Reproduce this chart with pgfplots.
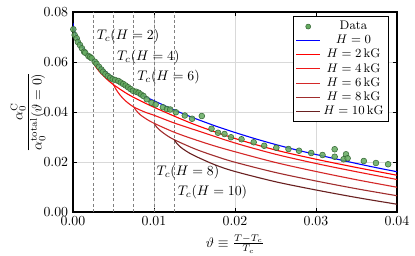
\documentclass[border=0pt]{standalone}
\usepackage{pgfplots}
\pgfplotsset{compat=1.18}
\definecolor{hb}{RGB}{0,0,255}
\definecolor{h2}{RGB}{255,0,0}
\definecolor{h4}{RGB}{238,24,24}
\definecolor{h6}{RGB}{212,40,40}
\definecolor{h8}{RGB}{160,45,45}
\definecolor{h10}{RGB}{105,32,32}
\definecolor{ptfill}{RGB}{100,170,95}
\definecolor{ptedge}{RGB}{55,105,55}
\begin{document}
\begin{tikzpicture}
\begin{axis}[
  scale only axis, width=234.3pt, height=144.6pt,
  xmin=0, xmax=0.04, ymin=0, ymax=0.08,
  xtick={0,0.01,0.02,0.03,0.04}, ytick={0,0.02,0.04,0.06,0.08},
  scaled ticks=false,
  xticklabel style={/pgf/number format/.cd, fixed, fixed zerofill, precision=2},
  yticklabel style={/pgf/number format/.cd, fixed, fixed zerofill, precision=2},
  grid=major, grid style={black!15, line width=0.7pt},
  axis line style={line width=0.8pt},
  tick style={black, line width=0.5pt},
  major tick length=3pt,
  every axis y label/.style={at={(axis description cs:-0.139,0.5)}, rotate=90, anchor=center},
  every axis x label/.style={at={(axis description cs:0.5,-0.16)}, anchor=center},
  xlabel={$\vartheta\equiv\frac{T-T_c}{T_c}$},
  ylabel={$\displaystyle\frac{\alpha_0^{\mathrm{C}}}{\alpha_0^{\mathrm{total}}(\vartheta=0)}$},
  legend style={at={(0.975,0.98)}, anchor=north east, draw=black, line width=0.6pt, font=\small, row sep=-1.5pt, inner sep=1.5pt, cells={anchor=center}},
  legend cell align=center,
  every axis plot/.append style={line width=0.8pt},
]
\addlegendimage{only marks, mark=*, mark size=1.8pt, mark options={fill=ptfill, draw=ptedge, line width=0.4pt}}
\addlegendentry{Data}

% vertical dashed Tc lines
\addplot[forget plot, black!50, line width=0.6pt, dash pattern=on 2.2pt off 1.6pt] coordinates {(0.0025,0) (0.0025,0.08)};
\addplot[forget plot, black!50, line width=0.6pt, dash pattern=on 2.2pt off 1.6pt] coordinates {(0.005,0) (0.005,0.08)};
\addplot[forget plot, black!50, line width=0.6pt, dash pattern=on 2.2pt off 1.6pt] coordinates {(0.0075,0) (0.0075,0.08)};
\addplot[forget plot, black!50, line width=0.6pt, dash pattern=on 2.2pt off 1.6pt] coordinates {(0.01,0) (0.01,0.08)};
\addplot[forget plot, black!50, line width=0.6pt, dash pattern=on 2.2pt off 1.6pt] coordinates {(0.0125,0) (0.0125,0.08)};

\addplot[hb, smooth] coordinates {
(0,0.0755) (0.0001,0.0735) (0.0002,0.0722) (0.0004,0.0703) (0.0007,0.0683)
(0.001,0.0667) (0.0015,0.0645) (0.002,0.0625) (0.0025,0.0607) (0.003,0.0592)
(0.0035,0.0577) (0.004,0.0563) (0.0045,0.0549) (0.005,0.0536) (0.006,0.0514)
(0.007,0.0494) (0.008,0.0476) (0.009,0.0460) (0.010,0.0445) (0.011,0.0430)
(0.0125,0.0408) (0.014,0.0388) (0.015,0.0375) (0.0175,0.0345) (0.020,0.0318)
(0.0225,0.0293) (0.025,0.0270) (0.0275,0.0249) (0.030,0.0230) (0.0325,0.0212)
(0.035,0.0194) (0.0375,0.0177) (0.040,0.0161)};
\addlegendentry{$H=0$}

\addplot[h2, smooth] coordinates {
(0.0025,0.0599) (0.0028,0.0581) (0.0032,0.0564) (0.0038,0.0543) (0.0045,0.0522)
(0.005,0.0509) (0.007,0.0467) (0.01,0.0419) (0.015,0.0350) (0.02,0.0294)
(0.025,0.0248) (0.03,0.0211) (0.035,0.0178) (0.04,0.0147)};
\addlegendentry{$H=2\,\mathrm{kG}$}

\addplot[h4, smooth] coordinates {
(0.005,0.0509) (0.0053,0.0491) (0.0058,0.0468) (0.0065,0.0444) (0.0075,0.0420)
(0.009,0.0398) (0.01,0.0387) (0.0125,0.0356) (0.015,0.0329) (0.02,0.0276)
(0.025,0.0231) (0.03,0.0194) (0.035,0.0161) (0.04,0.0130)};
\addlegendentry{$H=4\,\mathrm{kG}$}

\addplot[h6, smooth] coordinates {
(0.0075,0.0420) (0.0078,0.0406) (0.0083,0.0389) (0.009,0.0373) (0.01,0.0355)
(0.0125,0.0319) (0.015,0.0290) (0.0175,0.0264) (0.02,0.0241) (0.025,0.0198)
(0.03,0.0162) (0.035,0.0129) (0.04,0.0099)};
\addlegendentry{$H=6\,\mathrm{kG}$}

\addplot[h8, smooth] coordinates {
(0.01,0.0355) (0.0103,0.0341) (0.0108,0.0325) (0.0115,0.0308) (0.0125,0.0289)
(0.015,0.0253) (0.0175,0.0224) (0.02,0.0199) (0.025,0.0158) (0.03,0.0124)
(0.035,0.0093) (0.04,0.0065)};
\addlegendentry{$H=8\,\mathrm{kG}$}

\addplot[h10, smooth] coordinates {
(0.0125,0.0289) (0.0128,0.0275) (0.0133,0.0259) (0.014,0.0243) (0.015,0.0225)
(0.0175,0.0189) (0.02,0.0162) (0.025,0.0121) (0.03,0.0088) (0.035,0.0058)
(0.04,0.0031)};
\addlegendentry{$H=10\,\mathrm{kG}$}

\addplot[forget plot, only marks, mark=*, mark size=2.1pt, mark options={fill=ptfill, draw=ptedge, line width=0.4pt, fill opacity=0.85}] coordinates {
(0.00004,0.0731) (0.0002,0.0708) (0.00045,0.0695) (0.0006,0.0680) (0.00086,0.0668)
(0.0011,0.0655) (0.00136,0.0641) (0.0015,0.0637) (0.0019,0.0624) (0.0021,0.0620)
(0.0023,0.0615) (0.0027,0.0601) (0.0029,0.0593) (0.0032,0.0581) (0.0035,0.0570)
(0.0037,0.0561) (0.0040,0.0552) (0.0043,0.0544) (0.0046,0.0537) (0.0049,0.0531)
(0.0052,0.0528) (0.0056,0.0524) (0.0059,0.0518) (0.0062,0.0512) (0.0065,0.0506)
(0.0068,0.0499) (0.0071,0.0492) (0.0074,0.0485) (0.0078,0.0481) (0.0081,0.0477)
(0.0084,0.0470) (0.0087,0.0464) (0.0091,0.0451) (0.0097,0.0437) (0.0102,0.0430)
(0.0111,0.0419) (0.0116,0.0412) (0.0120,0.0410) (0.0127,0.0399) (0.0138,0.0386)
(0.0147,0.0373) (0.0159,0.0384) (0.0171,0.0333) (0.0179,0.0317) (0.0187,0.0312)
(0.0195,0.0299) (0.0208,0.0291) (0.0223,0.0279) (0.0236,0.0265) (0.0251,0.0257)
(0.0266,0.0252) (0.0279,0.0245) (0.0294,0.0236) (0.0308,0.0228) (0.0323,0.0251)
(0.0323,0.0221) (0.0334,0.0211) (0.0337,0.0231) (0.0339,0.0215) (0.0359,0.0204)
(0.0374,0.0196) (0.0389,0.0191)};

\node[anchor=west, inner sep=0pt] at (axis cs:0.0029,0.0704) {$T_c(H=2)$};
\node[anchor=west, inner sep=0pt] at (axis cs:0.0054,0.0621) {$T_c(H=4)$};
\node[anchor=west, inner sep=0pt] at (axis cs:0.0079,0.0541) {$T_c(H=6)$};
\node[anchor=west, inner sep=0pt] at (axis cs:0.0103,0.0161) {$T_c(H=8)$};
\node[anchor=west, inner sep=0pt] at (axis cs:0.0129,0.0081) {$T_c(H=10)$};
\end{axis}
\pgfresetboundingbox
\path ([shift={(-52.8pt,-31.8pt)}]current axis.south west) rectangle ([shift={(13pt,8.7pt)}]current axis.north east);
\end{tikzpicture}
\end{document}
